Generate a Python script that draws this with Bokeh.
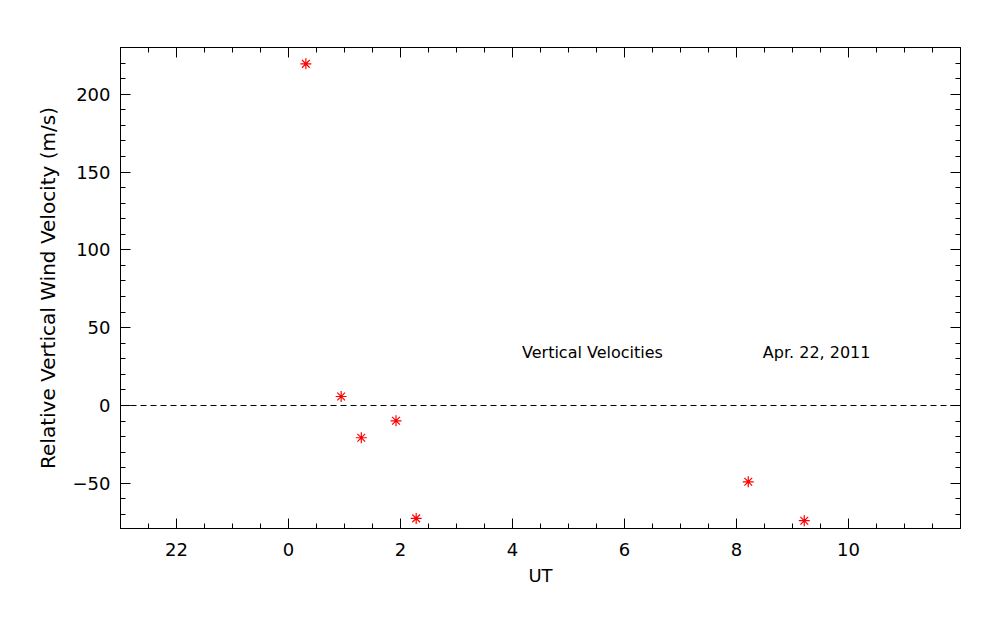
from bokeh.plotting import figure
from bokeh.models import FixedTicker, LinearAxis, Span, Label, Range1d
from bokeh.embed import file_html
from bokeh.resources import INLINE

ut = [0.31, 0.94, 1.30, 1.92, 2.28, 8.21, 9.21]
vel = [219.5, 5.8, -20.7, -9.8, -72.5, -49.0, -74.0]

x_ticks = [-2, 0, 2, 4, 6, 8, 10]
x_tick_labels = {-2: "22", 0: "0", 2: "2", 4: "4", 6: "6", 8: "8", 10: "10"}
x_minor = [v * 0.5 for v in range(-6, 25)]
y_ticks = [-50, 0, 50, 100, 150, 200]
y_tick_labels = {-50: "\u221250", 0: "0", 50: "50", 100: "100", 150: "150", 200: "200"}
y_minor = list(range(-70, 230, 10))

FONT = "DejaVu Sans"

p = figure(width=984, height=609, output_backend="svg", toolbar_location=None,
           x_range=Range1d(-3, 12), y_range=Range1d(-79, 230),
           min_border_left=120, min_border_right=24, min_border_top=47, min_border_bottom=81,
           x_axis_label="UT", y_axis_label="Relative Vertical Wind Velocity (m/s)")
p.grid.visible = False
p.outline_line_color = "black"
p.outline_line_width = 1
p.background_fill_color = "white"
p.border_fill_color = "white"

def style(ax, labels, ticks, minor, show):
    ax.ticker = FixedTicker(ticks=ticks, minor_ticks=minor)
    ax.major_tick_in = 10
    ax.major_tick_out = 0
    ax.minor_tick_in = 5
    ax.minor_tick_out = 0
    ax.axis_line_color = "black"
    ax.major_tick_line_color = "black"
    ax.minor_tick_line_color = "black"
    ax.major_label_text_font = FONT
    ax.major_label_text_font_size = "18px"
    ax.major_label_text_color = "black"
    ax.axis_label_text_font = FONT
    ax.axis_label_text_font_size = "18px"
    ax.axis_label_text_font_style = "normal"
    ax.axis_label_text_color = "black"
    if show:
        ax.major_label_overrides = labels
    else:
        ax.major_label_overrides = {t: "" for t in ticks}
        ax.major_label_standoff = 0

style(p.xaxis[0], x_tick_labels, x_ticks, x_minor, True)
style(p.yaxis[0], y_tick_labels, y_ticks, y_minor, True)
p.xaxis[0].major_label_standoff = 14
p.xaxis[0].axis_label_standoff = 6
p.yaxis[0].major_label_standoff = 10
p.yaxis[0].axis_label_standoff = 10
p.yaxis[0].axis_label_text_font_size = "20px"

top = LinearAxis()
style(top, {}, x_ticks, x_minor, False)
p.add_layout(top, "above")
right = LinearAxis()
style(right, {}, y_ticks, y_minor, False)
p.add_layout(right, "right")

p.add_layout(Span(location=0, dimension="width", line_color="black",
                  line_dash="6 4", line_width=1))

p.scatter(ut, vel, marker="asterisk", size=11, line_color="red", line_width=1.2)

p.add_layout(Label(x=4.17, y=34, text="Vertical Velocities", text_font=FONT,
                   text_font_size="16px", text_baseline="middle", text_color="black"))
p.add_layout(Label(x=8.47, y=34, text="Apr. 22, 2011", text_font=FONT,
                   text_font_size="16px", text_baseline="middle", text_color="black"))

open("out.html", "w").write(file_html(p, INLINE))
